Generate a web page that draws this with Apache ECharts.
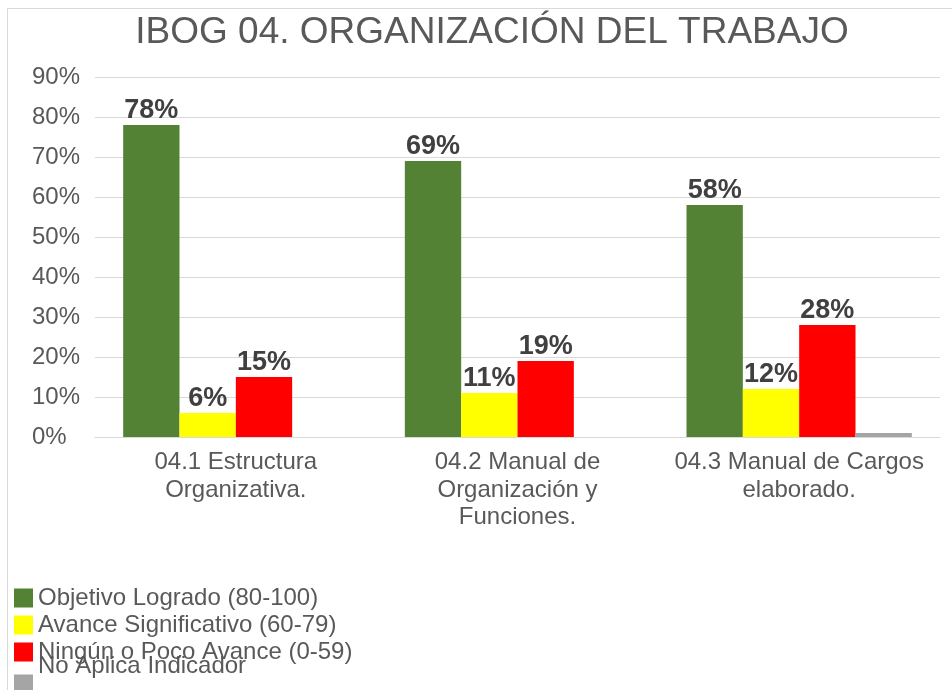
<!DOCTYPE html>
<html>
<head>
<meta charset="utf-8">
<script src="https://cdn.jsdelivr.net/npm/echarts@6/dist/echarts.min.js"></script>
<style>
  html, body { margin: 0; padding: 0; background: #fff; }
  #chart { width: 952px; height: 690px; }
</style>
</head>
<body>
<div id="chart"></div>
<script>
// datos del grafico
var categorias = ['04.1 Estructura\nOrganizativa.', '04.2 Manual de\nOrganización y\nFunciones.', '04.3 Manual de Cargos\nelaborado.'];
var logrado = [78, 69, 58];
var significativo = [6, 11, 12];
var pocoAvance = [15, 19, 28];
var noAplica = [0, 0, 1];
var nombres = ['Objetivo Logrado (80-100)', 'Avance Significativo (60-79)', 'Ningún o Poco Avance (0-59)', 'No Aplica Indicador'];
var colores = ['#548235', '#ffff00', '#ff0000', '#a5a5a5'];

var fuente = 'Liberation Sans, Arial, sans-serif';
var myChart = echarts.init(document.getElementById('chart'));

function serie(i, data, conLabel) {
    return {
        name: nombres[i],
        type: 'bar',
        barGap: 0,
        barCategoryGap: '20%',
        itemStyle: { color: colores[i] },
        label: {
            show: conLabel,
            position: 'top',
            distance: 1,
            formatter: '{c}%',
            fontFamily: fuente,
            fontWeight: 'bold',
            fontSize: 27,
            color: '#404040'
        },
        data: data
    };
}

var option = {
    animation: false,
    backgroundColor: '#fff',
    color: colores,
    title: {
        text: 'IBOG 04. ORGANIZACIÓN DEL TRABAJO',
        left: 487,
        textAlign: 'center',
        top: 9,
        textStyle: {
            fontFamily: fuente,
            fontWeight: 'normal',
            fontSize: 37,
            color: '#595959'
        }
    },
    graphic: [{
        type: 'rect',
        shape: { x: 7.5, y: 8.5, width: 960, height: 700 },
        style: { fill: 'none', stroke: '#d9d9d9', lineWidth: 1 },
        silent: true
    }],
    legend: [{
        orient: 'vertical',
        left: 9,
        top: 581,
        itemWidth: 19,
        itemHeight: 19,
        itemGap: 3,
        icon: 'rect',
        data: nombres.slice(0, 3),
        textStyle: { fontFamily: fuente, fontSize: 24, color: '#595959' }
    }, {
        // el ultimo texto sale encimado, como en el original
        orient: 'vertical',
        left: 9,
        top: 644,
        itemWidth: 19,
        itemHeight: 19,
        icon: 'rect',
        data: [nombres[3]],
        formatter: function(name) { return name + '\n '; },
        textStyle: { fontFamily: fuente, fontSize: 24, lineHeight: 35, color: '#595959' }
    }],
    grid: {
        left: 95,
        right: 12,
        top: 77,
        bottom: 253,
        containLabel: false
    },
    xAxis: {
        type: 'category',
        data: categorias,
        axisTick: { show: false },
        axisLine: { lineStyle: { color: '#d9d9d9', width: 1 } },
        axisLabel: {
            fontFamily: fuente,
            fontSize: 24,
            color: '#595959',
            lineHeight: 27.5,
            margin: 12,
            interval: 0
        }
    },
    yAxis: {
        type: 'value',
        min: 0,
        max: 90,
        interval: 10,
        axisLine: { show: false },
        axisTick: { show: false },
        splitLine: { lineStyle: { color: '#d9d9d9', width: 1 } },
        axisLabel: {
            formatter: '{value}%',
            fontFamily: fuente,
            fontSize: 24,
            color: '#595959',
            align: 'left',
            margin: 63
        }
    },
    series: [
        serie(0, logrado, true),
        serie(1, significativo, true),
        serie(2, pocoAvance, true),
        serie(3, noAplica, false)
    ]
};
myChart.setOption(option);
</script>
</body>
</html>
